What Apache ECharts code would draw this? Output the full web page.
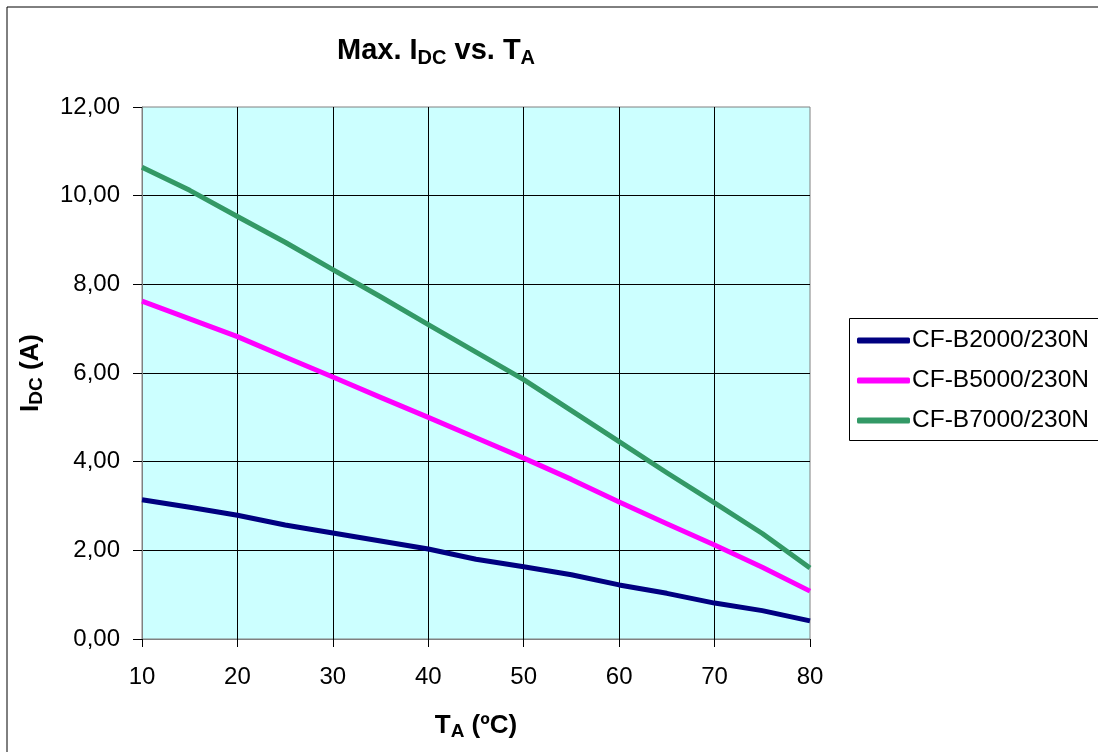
<!DOCTYPE html>
<html>
<head>
<meta charset="utf-8">
<script src="https://cdn.jsdelivr.net/npm/echarts@6/dist/echarts.min.js"></script>
<style>
html,body{margin:0;padding:0;background:#fff;}
#c{width:1098px;height:752px;}
</style>
</head>
<body>
<div id="c"></div>
<script>
const temps = [10, 15, 20, 25, 30, 35, 40, 45, 50, 55, 60, 65, 70, 75, 80];
const b2000 = [3.14, 2.97, 2.79, 2.57, 2.39, 2.21, 2.03, 1.80, 1.63, 1.45, 1.22, 1.03, 0.81, 0.64, 0.41];
const b5000 = [7.62, 7.22, 6.82, 6.36, 5.91, 5.45, 5.00, 4.54, 4.08, 3.60, 3.09, 2.60, 2.12, 1.62, 1.08];
const b7000 = [10.64, 10.12, 9.53, 8.95, 8.33, 7.72, 7.09, 6.47, 5.85, 5.15, 4.45, 3.75, 3.07, 2.38, 1.60];
const seriesNames = ['CF-B2000/230N', 'CF-B5000/230N', 'CF-B7000/230N'];
const seriesColors = ['#000080', '#FF00FF', '#339966'];
const FONT = '"Liberation Sans", Arial, sans-serif';

const pairs = arr => temps.map((t, i) => [t, arr[i]]);
const allData = [b2000, b5000, b7000];

const chart = echarts.init(document.getElementById('c'), null, {renderer: 'canvas'});
chart.setOption({
  animation: false,
  backgroundColor: '#ffffff',
  textStyle: {fontFamily: FONT},
  title: {
    text: '{m|Max. I}{s|DC}{m| vs. T}{s|A}',
    left: 337, top: 34, padding: 0,
    textStyle: {
      rich: {
        m: {fontFamily: FONT, fontSize: 29, fontWeight: 'bold', color: '#000', lineHeight: 34, verticalAlign: 'middle'},
        s: {fontFamily: FONT, fontSize: 20, fontWeight: 'bold', color: '#000', lineHeight: 34, verticalAlign: 'bottom'}
      }
    }
  },
  graphic: [{
    type: 'rect', silent: true, z: 100,
    shape: {x: 7, y: 7, width: 1200, height: 1000},
    style: {fill: 'none', stroke: '#000', lineWidth: 1}
  }, {
    type: 'rect', silent: true, z: 0,
    shape: {x: 849.5, y: 318.5, width: 400, height: 122},
    style: {fill: '#fff', stroke: '#000', lineWidth: 1}
  }],
  legend: {
    orient: 'vertical',
    left: 849, top: 318,
    padding: [10, 4, 9, 8],
    itemGap: 15,
    itemWidth: 53, itemHeight: 6,
    icon: 'roundRect',
    backgroundColor: 'transparent',
    borderWidth: 0,
    textStyle: {fontFamily: FONT, fontSize: 24.5, color: '#000', padding: [0, 0, 0, -3]},
    data: seriesNames
  },
  grid: {
    left: 142, right: 288, top: 107, bottom: 113,
    show: true, backgroundColor: '#CCFFFF', borderColor: '#808080', borderWidth: 1
  },
  xAxis: {
    type: 'value', min: 10, max: 80, interval: 10,
    name: '{m|T}{s|A}{m| (ºC)}',
    nameLocation: 'middle', nameGap: 72,
    nameTextStyle: {
      rich: {
        m: {fontFamily: FONT, fontSize: 26, fontWeight: 'bold', color: '#000', lineHeight: 30, verticalAlign: 'middle'},
        s: {fontFamily: FONT, fontSize: 19, fontWeight: 'bold', color: '#000', lineHeight: 30, verticalAlign: 'bottom'}
      }
    },
    axisLine: {show: true, lineStyle: {color: '#808080', width: 1}},
    axisTick: {show: true, inside: false, length: 8, lineStyle: {color: '#000', width: 1}},
    axisLabel: {fontFamily: FONT, fontSize: 24, color: '#000', margin: 26},
    splitLine: {show: true, showMinLine: false, showMaxLine: false, lineStyle: {color: '#000', width: 1}}
  },
  yAxis: {
    type: 'value', min: 0, max: 12, interval: 2,
    name: '{m|I}{s|DC}{m| (A)}',
    nameLocation: 'middle', nameGap: 96, nameRotate: 90,
    nameTextStyle: {
      rich: {
        m: {fontFamily: FONT, fontSize: 26, fontWeight: 'bold', color: '#000', lineHeight: 30, verticalAlign: 'middle'},
        s: {fontFamily: FONT, fontSize: 19, fontWeight: 'bold', color: '#000', lineHeight: 30, verticalAlign: 'bottom'}
      }
    },
    axisLine: {show: true, lineStyle: {color: '#808080', width: 1}},
    axisTick: {show: true, inside: false, length: 9, lineStyle: {color: '#000', width: 1}},
    axisLabel: {fontFamily: FONT, fontSize: 24, color: '#000', margin: 22,
      formatter: v => v.toFixed(2).replace('.', ',')},
    splitLine: {show: true, showMinLine: false, showMaxLine: false, lineStyle: {color: '#000', width: 1}}
  },
  series: seriesNames.map((n, i) => ({
    name: n, type: 'line', data: pairs(allData[i]),
    showSymbol: false, symbol: 'none', smooth: false,
    color: seriesColors[i],
    lineStyle: {color: seriesColors[i], width: 5, cap: 'butt', join: 'round'},
    itemStyle: {color: seriesColors[i]},
    clip: true
  }))
});
</script>
</body>
</html>
